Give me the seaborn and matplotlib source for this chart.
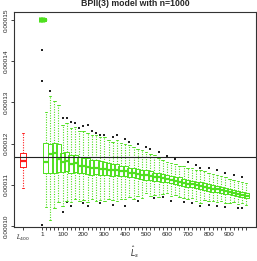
import numpy as np
import pandas as pd
import seaborn as sns
import matplotlib
matplotlib.use("Agg")
import matplotlib.pyplot as plt

# ---- data (values in units of 1e-5) ----
s_pos = [1] + list(range(20, 1000, 20))

med = [15.00, 11.55, 11.75, 11.78, 11.62,
       11.55, 11.58, 11.50, 11.52, 11.47, 11.45, 11.44, 11.41, 11.42, 11.39,
       11.38, 11.37, 11.35, 11.36, 11.33, 11.33, 11.30, 11.29, 11.27, 11.25,
       11.23, 11.22, 11.19, 11.18, 11.16, 11.14, 11.12, 11.10, 11.08, 11.05,
       11.03, 11.01, 10.99, 10.97, 10.95, 10.93, 10.91, 10.89, 10.87, 10.85,
       10.83, 10.81, 10.79, 10.76, 10.74]
q1 = [15.00, 11.29, 11.30, 11.30, 11.32,
      11.31, 11.33, 11.29, 11.31, 11.28, 11.28, 11.27, 11.25, 11.26, 11.24,
      11.24, 11.23, 11.22, 11.23, 11.21, 11.22, 11.19, 11.18, 11.16, 11.15,
      11.13, 11.12, 11.10, 11.09, 11.07, 11.06, 11.04, 11.02, 11.00, 10.98,
      10.96, 10.94, 10.92, 10.90, 10.88, 10.86, 10.84, 10.83, 10.81, 10.79,
      10.77, 10.75, 10.73, 10.70, 10.68]
q3 = [15.00, 12.01, 12.00, 12.01, 11.98,
      11.77, 11.80, 11.72, 11.73, 11.68, 11.66, 11.64, 11.60, 11.61, 11.57,
      11.55, 11.53, 11.50, 11.51, 11.47, 11.45, 11.42, 11.41, 11.39, 11.37,
      11.35, 11.33, 11.30, 11.29, 11.26, 11.24, 11.22, 11.20, 11.18, 11.15,
      11.12, 11.10, 11.08, 11.06, 11.04, 11.01, 10.99, 10.97, 10.95, 10.93,
      10.90, 10.88, 10.86, 10.83, 10.80]
wlo = [15.00, 10.46, 10.15, 10.44, 10.58,
       10.48, 10.62, 10.58, 10.65, 10.60, 10.63, 10.58, 10.66, 10.62, 10.64,
       10.60, 10.66, 10.63, 10.60, 10.67, 10.65, 10.70, 10.66, 10.72, 10.69,
       10.80, 10.74, 10.76, 10.71, 10.78, 10.80, 10.72, 10.75, 10.70, 10.68,
       10.66, 10.69, 10.62, 10.57, 10.64, 10.60, 10.62, 10.58, 10.60, 10.55,
       10.56, 10.58, 10.53, 10.55, 10.51]
whi = [15.00, 12.77, 13.16, 13.03, 12.94,
       12.45, 12.50, 12.38, 12.40, 12.30, 12.30, 12.26, 12.20, 12.22, 12.15,
       12.15, 12.10, 12.05, 12.08, 12.02, 12.00, 11.96, 11.92, 11.88, 11.84,
       11.80, 11.75, 11.72, 11.66, 11.60, 11.55, 11.52, 11.50, 11.47, 11.45,
       11.42, 11.40, 11.37, 11.36, 11.33, 11.30, 11.27, 11.24, 11.21, 11.18,
       11.15, 11.12, 11.10, 11.07, 11.04]

# reference estimator L400 (red box)
ref_pos = -90
ref_stats = [10.92, 11.43, 11.58, 11.77, 12.26]  # wlo, q1, med, q3, whi

# outliers (position, value)
out_s = [1, 1, 1, 40, 100, 120, 140, 160, 180, 200, 220, 240, 260, 280, 300,
         340, 360, 400, 420, 460, 500, 520, 560, 600, 640, 700, 740, 760, 800,
         840, 880, 920, 960,
         100, 120, 140, 200, 220, 280, 340, 400, 460, 540, 580, 620, 680, 720,
         760, 800, 840, 880, 940, 960]
out_v = [14.27, 13.52, 10.02, 13.28, 12.62, 12.62, 12.52, 12.50, 12.38, 12.43,
         12.45, 12.30, 12.25, 12.20, 12.20, 12.15, 12.20, 12.12, 12.05, 11.98,
         11.92, 11.88, 11.80, 11.70, 11.62, 11.55, 11.48, 11.40, 11.42, 11.35,
         11.30, 11.25, 11.20,
         10.35, 10.58, 10.50, 10.55, 10.50, 10.56, 10.51, 10.49, 10.62, 10.68,
         10.70, 10.62, 10.58, 10.55, 10.50, 10.52, 10.48, 10.47, 10.45, 10.44]

true_value = 11.67

scale = 1e-5
rows = []
for i, s in enumerate(s_pos):
    for v in (wlo[i], q1[i], med[i], q3[i], whi[i]):
        rows.append((s, v * scale, "est"))
for v in ref_stats:
    rows.append((ref_pos, v * scale, "ref"))
df = pd.DataFrame(rows, columns=["s", "value", "kind"])

green = "#4fe01f"
red = "#ff1a1a"

sns.set_theme(style="ticks")
plt.rcParams["font.family"] = ["Liberation Sans", "DejaVu Sans"]

fig = plt.figure(figsize=(2.57, 2.61), dpi=100)
ax = fig.add_axes([14 / 257, 1 - 227 / 261, 242 / 257, 215 / 261])

sns.boxplot(data=df, x="s", y="value", hue="kind",
            palette={"est": green, "ref": red},
            native_scale=True, dodge=False, fill=False, width=1.3,
            whis=(0, 100), showfliers=False, linewidth=0.7,
            medianprops={"linewidth": 1.6},
            legend=False, ax=ax)

# dotted whiskers in the box colour, R style
for ln in ax.lines:
    xd = np.asarray(ln.get_xdata(), dtype=float)
    yd = np.asarray(ln.get_ydata(), dtype=float)
    if len(xd) == 2 and xd[0] == xd[1]:
        ln.set_linestyle((0, (1, 1.3)))
        ln.set_linewidth(0.8)
        ln.set_color(red if xd[0] < 0 else green)
    if len(yd) and np.allclose(yd, 15.0 * scale):
        ln.set_linewidth(3.2)
        ln.set_solid_capstyle("butt")

sns.scatterplot(x=out_s, y=[v * scale for v in out_v],
                color="#222222", marker="s", s=1.5, linewidth=0, ax=ax)

ax.axhline(true_value * scale, color="#222222", lw=0.8)

ax.set_xlim(-133, 1027)
ax.set_ylim(0.0000998, 0.0001519)

xt = [ref_pos] + s_pos
xl = ["$\\hat{L}_{400}$"] + ["1" if s == 1 else (str(s) if s % 100 == 0 else "") for s in s_pos]
ax.set_xticks(xt)
ax.set_xticklabels(xl)
yt = [0.00010, 0.00011, 0.00012, 0.00013, 0.00014, 0.00015]
ax.set_yticks(yt)
ax.set_yticklabels([f"{v:.5f}" for v in yt], rotation=90, va="center")
ax.tick_params(axis="both", labelsize=4.6, length=2.2, width=0.6, pad=1.5,
               colors="#222222")

for sp in ax.spines.values():
    sp.set_visible(True)
    sp.set_linewidth(0.8)
    sp.set_color("#333333")

ax.set_xlabel("$\\hat{L}_s$", fontsize=5.5, labelpad=1)
ax.set_ylabel("")
ax.set_title("BPII(3) model with n=1000", fontsize=6.3, fontweight="bold", pad=4)

fig.savefig("out.png", dpi=100)
